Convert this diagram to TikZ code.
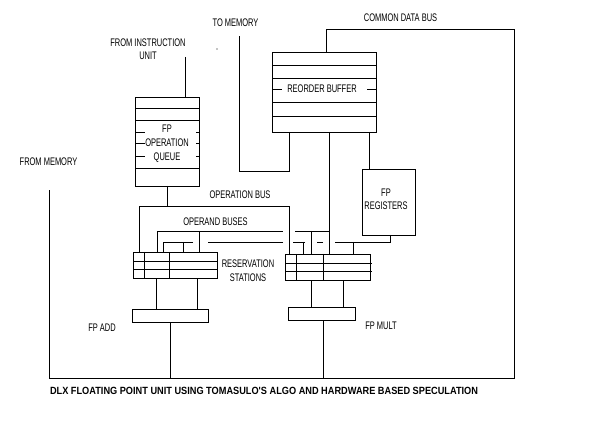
\documentclass[tikz,border=0pt]{standalone}
\usepackage{fontspec}
\setmainfont{Liberation Sans}
\usepackage{graphicx}
\usetikzlibrary{calc}
\newcommand{\lbl}[1]{\scalebox{0.68}[1]{\begin{tabular}{@{}c@{}}#1\end{tabular}}}
\tikzset{
    wire/.style={black,line width=0.9pt},
    unit/.style={draw,wire,rectangle,inner sep=0pt,outer sep=0pt},
    lbltext/.style={inner sep=0pt,font=\fontsize{11}{13}\selectfont}
}
\begin{document}
\begin{tikzpicture}[x=1pt,y=-1pt]
\fill[white](0,0)rectangle(596,443);
\useasboundingbox(0,0)rectangle(596,443);
% units
\node[unit,minimum width=104pt,minimum height=80pt](rob)at(324,92){};
\node[unit,minimum width=64pt,minimum height=89pt](queue)at(167,141.5){};
\node[unit,minimum width=53pt,minimum height=66pt](regs)at(388.5,202){};
\node[unit,minimum width=84pt,minimum height=26pt](addrs)at(175,265){};
\node[unit,minimum width=85pt,minimum height=26pt](multrs)at(327.5,267){};
\node[unit,minimum width=76pt,minimum height=13pt](fpadd)at(170,315.5){};
\node[unit,minimum width=67pt,minimum height=13pt](fpmult)at(321.5,313.5){};
% rows inside the units
\foreach \y in {65,78,102,116} \draw[wire](272,\y)--(376,\y);
\draw[wire](272,89)--(282,89);
\draw[wire](367,89)--(376,89);
\foreach \y in {108,120,168} \draw[wire](135,\y)--(199,\y);
\foreach \y in {132,143,156}{
  \draw[wire](135,\y)--(145,\y);
  \draw[wire](196,\y)--(200,\y);
}
\foreach \y in {261,269} \draw[wire](133,\y)--(217,\y);
\foreach \x in {144,169} \draw[wire](\x,252)--(\x,278);
\foreach \y in {263,271} \draw[wire](285,\y)--(372,\y);
\foreach \x in {296,323} \draw[wire](\x,254)--(\x,280);
% instruction unit and operation bus
\coordinate(instr)at(185,57);
\coordinate(opl)at(139,206);
\coordinate(opr)at(289,206);
\draw[wire](instr)--(instr |- queue.north);
\draw[wire](queue.south)--(queue.south |- opl);
\draw[wire](opl |- addrs.north)--(opl)--(opr)--(opr |- multrs.north);
% common data bus
\draw[wire](326,0 |- rob.north)--(326,29)--(514,29)--(514,378)--(49,378)--(49,190);
\draw[wire](fpadd.south)--(fpadd.south |- 0,378);
\draw[wire](323,0 |- fpmult.south)--(323,378);
% reorder buffer outputs
\draw[wire](289,0 |- rob.south)--(289,171)--(239,171)--(239,36);
\draw[wire](329,0 |- rob.south)--(329,0 |- multrs.north);
\draw[wire](369,0 |- rob.south)--(369,0 |- regs.north);
% operand buses
\draw[wire](157,0 |- addrs.north)--(157,231)--(283,231);
\draw[wire](295,231)--(329,231);
\draw[wire](199,231)--(199,0 |- addrs.north);
\draw[wire](311,231)--(311,0 |- multrs.north);
\draw[wire](390,0 |- regs.south)--(390,242)--(335,242);
\foreach \a/\b in {323/317,305/293,283/208} \draw[wire](\a,242)--(\b,242);
\draw[wire](193,242)--(163,242)--(163,0 |- addrs.north);
\draw[wire](183,242)--(183,0 |- addrs.north);
\foreach \x in {303,353} \draw[wire](\x,242)--(\x,0 |- multrs.north);
% stations to functional units
\foreach \x in {156,197} \draw[wire](\x,0 |- addrs.south)--(\x,0 |- fpadd.north);
\foreach \x in {311,343} \draw[wire](\x,0 |- multrs.south)--(\x,0 |- fpmult.north);
% labels
\node[lbltext](instrlbl)at(148,50){\lbl{FROM INSTRUCTION\\UNIT}};
\node[lbltext](queuelbl)at(167,144){\lbl{FP\\[1pt]OPERATION\\[1pt]QUEUE}};
\node[lbltext](roblbl)at(322,90){\lbl{REORDER BUFFER}};
\node[lbltext](regslbl)at(386,200.5){\lbl{FP\\REGISTERS}};
\node[lbltext](rslbl)at(248,272){\lbl{RESERVATION\\[1pt]STATIONS}};
\node[lbltext](opbuslbl)at(240,196){\lbl{OPERATION BUS}};
\node[lbltext](operandlbl)at(215.5,223){\lbl{OPERAND BUSES}};
\node[lbltext](tomemlbl)at(235.5,24){\lbl{TO MEMORY}};
\node[lbltext](cdblbl)at(400.5,19){\lbl{COMMON DATA BUS}};
\node[lbltext](frommemlbl)at(48.5,163){\lbl{FROM MEMORY}};
\node[lbltext](addlbl)at(102,329){\lbl{FP ADD}};
\node[lbltext](multlbl)at(381,327){\lbl{FP MULT}};
\fill(217,49)circle(0.6pt);
\node[inner sep=0pt,font=\fontsize{10}{12}\bfseries](title)at(264,391)
  {\resizebox{428pt}{7.3pt}{DLX FLOATING POINT UNIT USING TOMASULO\textquotesingle S ALGO AND HARDWARE BASED SPECULATION}};
\end{tikzpicture}
\end{document}
